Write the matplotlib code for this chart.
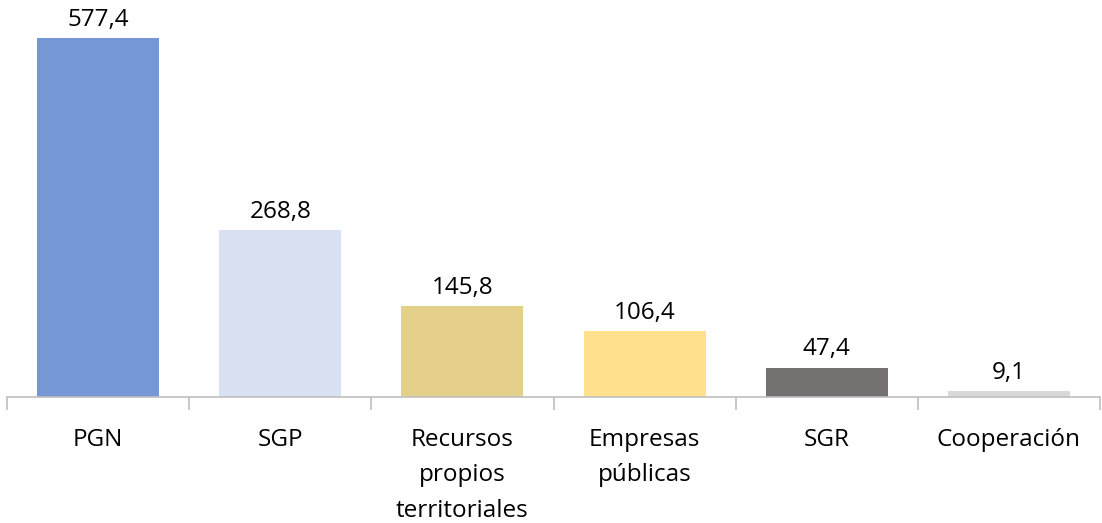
import matplotlib
matplotlib.use("Agg")
import matplotlib.pyplot as plt
from matplotlib.ticker import FixedLocator, NullFormatter

categories = ["PGN", "SGP", "Recursos\npropios\nterritoriales", "Empresas\npúblicas", "SGR", "Cooperación"]
values = [577.4, 268.8, 145.8, 106.4, 47.4, 9.1]
labels = ["577,4", "268,8", "145,8", "106,4", "47,4", "9,1"]
colors = ["#7597D6", "#D9E2F3", "#E5D08A", "#FFE08C", "#767171", "#D9D9D9"]

plt.rcParams['font.family'] = ['Open Sans', 'DejaVu Sans']

W, H = 1102, 523
fig = plt.figure(figsize=(W / 100, H / 100), dpi=100)
ax = fig.add_axes([7 / W, 1 - 397 / H, 1093 / W, 397 / H])

x = list(range(len(categories)))
bars = ax.bar(x, values, width=0.67, color=colors, zorder=2)
ax.set_xlim(-0.5, len(categories) - 0.5)
ax.set_ylim(0, 638.5)

for b, lab in zip(bars, labels):
    ax.annotate(lab, (b.get_x() + b.get_width() / 2, b.get_height()),
                xytext=(0, 4.5), textcoords="offset points",
                ha="center", va="bottom", fontsize=17.5, color="#000000")

for s in ["top", "right", "left"]:
    ax.spines[s].set_visible(False)
ax.spines["bottom"].set_color("#BFBFBF")
ax.spines["bottom"].set_linewidth(1.2)
ax.set_yticks([])

ax.set_xticks(x)
ax.set_xticklabels(categories, fontsize=17.5, linespacing=1.65, va="top")
ax.tick_params(axis="x", which="major", length=0, pad=22)
ax.xaxis.set_minor_locator(FixedLocator([i - 0.5 for i in range(len(categories) + 1)]))
ax.xaxis.set_minor_formatter(NullFormatter())
ax.tick_params(axis="x", which="minor", length=9, color="#BFBFBF", width=1.2)

fig.savefig("out.png", dpi=100)
